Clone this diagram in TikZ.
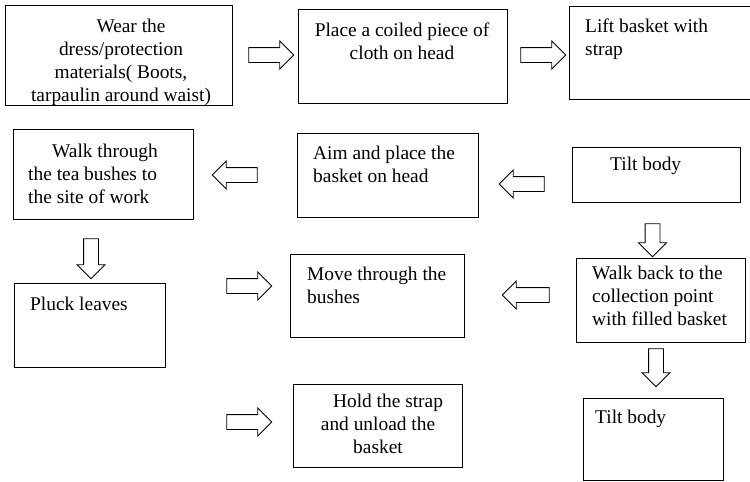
\documentclass[tikz,border=0pt]{standalone}
\usepackage{fontspec}
\setmainfont{Liberation Serif}
\usetikzlibrary{shapes.arrows}
\tikzset{
    block/.style = {draw, rectangle, line width=1.1pt, inner sep=0pt, anchor=north west},
    txt/.style = {inner sep=0pt, anchor=north west, align=left,
        font=\fontsize{19.4}{23}\selectfont},
    ctxt/.style = {txt, anchor=north, align=center},
    barrow/.style = {draw, single arrow, single arrow head extend=6.5pt,
        inner sep=7pt, minimum height=45pt, line width=0.9pt}
}
\begin{document}
\begin{tikzpicture}[x=1pt,y=-1pt]
\useasboundingbox (0,0) rectangle (750,482);
% boxes
\node[block, minimum width=227pt, minimum height=100pt] (wear) at (5,5) {};
\node[block, minimum width=209pt, minimum height=94pt] (cloth) at (298,9) {};
\node[block, minimum width=183pt, minimum height=93pt] (lift) at (569,6) {};
\node[block, minimum width=180pt, minimum height=90pt] (walk) at (13,129) {};
\node[block, minimum width=181pt, minimum height=84pt] (aim) at (297,133) {};
\node[block, minimum width=168pt, minimum height=55pt] (tilt) at (572,147) {};
\node[block, minimum width=151pt, minimum height=84pt] (pluck) at (14,283) {};
\node[block, minimum width=174pt, minimum height=83pt] (move) at (290,254) {};
\node[block, minimum width=169pt, minimum height=84pt] (back) at (576,258) {};
\node[block, minimum width=169pt, minimum height=83pt] (hold) at (293,384) {};
\node[block, minimum width=140pt, minimum height=82pt] (tiltb) at (583,398) {};
% texts
\node[ctxt] (wearT) at (121,18.5) {\hspace*{20pt}Wear the\\dress/protection\\materials( Boots,\\tarpaulin around waist)};
\node[ctxt] (clothT) at (402,22.5) {Place a coiled piece of\\cloth on head};
\node[txt] (liftT) at (585,18.5) {Lift basket with\\strap};
\node[txt] (walkT) at (28,143.5) {\hspace*{24pt}Walk through\\the tea bushes to\\the site of work};
\node[txt] (aimT) at (313,145.5) {Aim and place the\\basket on head};
\node[txt] (tiltT) at (610,157) {Tilt body};
\node[txt] (pluckT) at (30,297) {Pluck leaves};
\node[txt] (moveT) at (307,267) {Move through the\\bushes};
\node[txt] (backT) at (592,266) {Walk back to the\\collection point\\with filled basket};
\node[ctxt] (holdT) at (378,394) {\hspace*{20pt}Hold the strap\\and unload the\\basket};
\node[txt] (tiltbT) at (595,410) {Tilt body};
% arrows
\node[barrow] (a1) at (267.5,55) {};
\node[barrow] (a2) at (539.5,55) {};
\node[barrow, rotate=180] (a3) at (238.5,175) {};
\node[barrow, rotate=180] (a4) at (525.5,184) {};
\node[barrow, rotate=270, minimum height=40pt] (a5) at (91,255) {};
\node[barrow, rotate=270, minimum height=33pt] (a6) at (652.5,236.5) {};
\node[barrow] (a7) at (245.5,286) {};
\node[barrow, rotate=180, minimum height=47pt] (a8) at (529.5,295) {};
\node[barrow, rotate=270, minimum height=38pt] (a9) at (656,364) {};
\node[barrow] (a10) at (245.5,422) {};
\end{tikzpicture}
\end{document}
